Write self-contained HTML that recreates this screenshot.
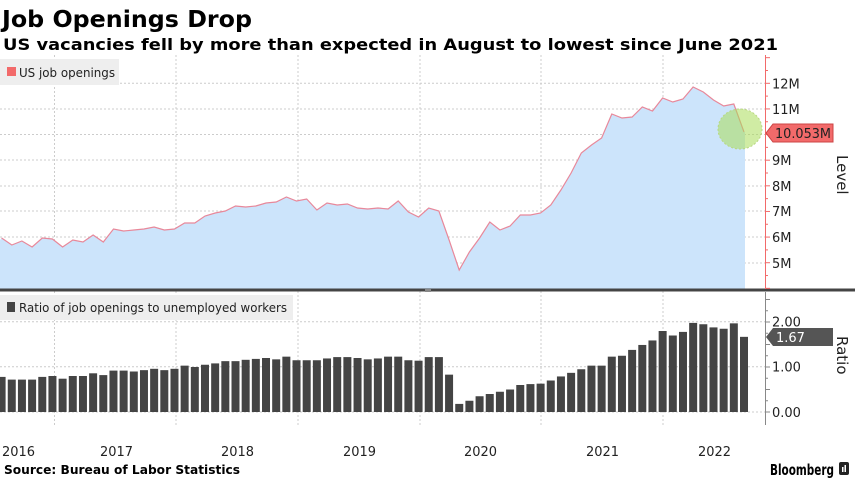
<!DOCTYPE html>
<html><head><meta charset="utf-8">
<style>
html,body{margin:0;padding:0;background:#fff;width:855px;height:480px;overflow:hidden}
svg{display:block}
text{font-family:"DejaVu Sans","Liberation Sans",sans-serif}
</style></head>
<body>
<svg id="s" width="855" height="480" xmlns="http://www.w3.org/2000/svg">
<text x="2" y="27" font-size="23" font-weight="bold" textLength="250" lengthAdjust="spacingAndGlyphs">Job Openings Drop</text>
<text x="3" y="50" font-size="16" font-weight="bold" textLength="775" lengthAdjust="spacingAndGlyphs">US vacancies fell by more than expected in August to lowest since June 2021</text>
<g id="g"></g>
<rect x="0" y="59" width="119" height="26" fill="#eeeeee"/>
<rect x="7" y="67" width="9" height="9" fill="#f26a6a"/>
<text x="19" y="77" font-size="12" fill="#222" textLength="96" lengthAdjust="spacingAndGlyphs">US job openings</text>
<rect x="0" y="295" width="293" height="25" fill="#eeeeee"/>
<rect x="7" y="302" width="8" height="10" fill="#444"/>
<text x="19" y="312" font-size="12" fill="#222" textLength="268" lengthAdjust="spacingAndGlyphs">Ratio of job openings to unemployed workers</text>
<text x="0" y="298" font-size="1"></text>
<g font-size="13" fill="#222">
<text x="2" y="456" textLength="33" lengthAdjust="spacingAndGlyphs">2016</text>
<text x="100" y="456" textLength="33" lengthAdjust="spacingAndGlyphs">2017</text>
<text x="221" y="456" textLength="33" lengthAdjust="spacingAndGlyphs">2018</text>
<text x="343" y="456" textLength="33" lengthAdjust="spacingAndGlyphs">2019</text>
<text x="464" y="456" textLength="33" lengthAdjust="spacingAndGlyphs">2020</text>
<text x="586" y="456" textLength="33" lengthAdjust="spacingAndGlyphs">2021</text>
<text x="698" y="456" textLength="33" lengthAdjust="spacingAndGlyphs">2022</text>
</g>
<text x="4" y="474" font-size="12" font-weight="bold" textLength="236" lengthAdjust="spacingAndGlyphs">Source: Bureau of Labor Statistics</text>
<text x="770" y="475" font-size="15" font-weight="bold" textLength="64" lengthAdjust="spacingAndGlyphs">Bloomberg</text>
<rect x="839" y="462" width="10" height="13" rx="2" fill="#222"/>
<rect x="842" y="467" width="1.5" height="5" fill="#fff"/><rect x="844.5" y="465" width="1.5" height="7" fill="#fff"/>
<text transform="translate(837,155) rotate(90)" font-size="15" fill="#222">Level</text>
<text transform="translate(837,336) rotate(90)" font-size="15" fill="#222">Ratio</text>
</svg>
<script>
var NS="http://www.w3.org/2000/svg",g=document.getElementById('g');
function el(t,a){var e=document.createElementNS(NS,t);for(var k in a)e.setAttribute(k,a[k]);g.appendChild(e);return e;}
// gridlines
[83.3,109,134.5,160,186,211,237,263].forEach(function(y){el('line',{x1:0,x2:765,y1:y,y2:y,stroke:'#ccc','stroke-dasharray':'2,2','stroke-width':1});});
[321.7,366.7,412].forEach(function(y){el('line',{x1:0,x2:765,y1:y,y2:y,stroke:'#ccc','stroke-dasharray':'2,2','stroke-width':1});});
[54.5,176,298,420,541,663].forEach(function(x){el('line',{x1:x,x2:x,y1:55,y2:425,stroke:'#ccc','stroke-dasharray':'2,2','stroke-width':1});});
var ly=[238,245,241,247,238,239,247,240,242,235,242,229,231,230,229,227,230,229,223,223,216,213,211,206,207,206,203,202,197,201,199,210,203,205,204,208,209,208,209,201,
212,217,208,211,240,270,252,238,222,230,226,215,215,213,205,190,173,153,145,138,114,118,117,107,111,98,102,99,87,92,100,106,104,132];
var rv=[0.78,.72,.72,.72,.78,.80,.74,.80,.80,.86,.82,.92,.92,.90,.93,.96,.93,.96,1.03,1.00,1.05,1.08,1.13,1.13,1.16,1.18,1.20,1.17,1.23,1.15,1.15,1.15,1.19,1.22,1.22,1.20,1.17,1.19,1.23,1.23,1.15,1.14,1.22,1.22,.83,.18,.25,.35,.40,.45,.50,.60,.62,.63,.70,.79,.87,.95,1.03,1.03,1.23,1.25,1.38,1.49,1.59,1.80,1.70,1.78,1.98,1.95,1.88,1.85,1.97,1.67];
function X(i){return 744-10.17*(73-i);}
var pts=ly.map(function(y,i){return X(i).toFixed(1)+','+y;}).join(' ');
el('polygon',{points:'0,240 '+pts+' 745,132 745,289 0,289',fill:'#cce4fb'});
el('polyline',{points:pts,fill:'none',stroke:'#e8889a','stroke-width':1.2});
el('ellipse',{cx:740,cy:129,rx:22,ry:20,fill:'rgba(170,220,90,0.55)',stroke:'#b8d880','stroke-dasharray':'2,2'});
rv.forEach(function(v,i){var h=v*45;el('rect',{x:X(i)-4,y:412-h,width:8,height:h,fill:'#444'});});
// separators & axes
el('rect',{x:0,y:288.5,width:855,height:3,fill:'#444'});
el('rect',{x:425,y:289,width:6,height:3,fill:'#888'});
el('line',{x1:765.5,x2:765.5,y1:55,y2:289,stroke:'#f26a6a','stroke-width':1});
for(var v=4;v<=13;v+=0.5){var y=83.3+(12-v)*25.63;if(y>55&&y<289)el('line',{x1:765,x2:v%1?768:770,y1:y,y2:y,stroke:'#f26a6a'});}
el('line',{x1:765.5,x2:765.5,y1:292,y2:425,stroke:'#888','stroke-width':1});
for(var r=0;r<=2.6;r+=0.25){var y=412-r*45;el('line',{x1:765,x2:(r*4)%2?768:770,y1:y,y2:y,stroke:'#888'});}
function t(x,y,s,a){var e=el('text',Object.assign({x:x,y:y,'font-size':13,fill:'#222'},a||{}));e.textContent=s;return e;}
[['12M',83.3],['11M',109],['9M',160],['8M',186],['7M',211],['6M',237],['5M',263]].forEach(function(p){t(772,p[1]+5,p[0]);});
[['2.00',321.7],['1.00',366.7],['0.00',412]].forEach(function(p){t(772,p[1]+5,p[0]);});
el('polygon',{points:'766,133 773,124 833,124 833,142 773,142',fill:'#f26a6a',stroke:'#c44'});
t(775,138,'10.053M',{'font-size':13,fill:'#222',textLength:56,lengthAdjust:'spacingAndGlyphs'});
el('polygon',{points:'766,337 773,328 833,328 833,346 773,346',fill:'#555'});
t(776,342,'1.67',{fill:'#fff'});
</script>
</body></html>
